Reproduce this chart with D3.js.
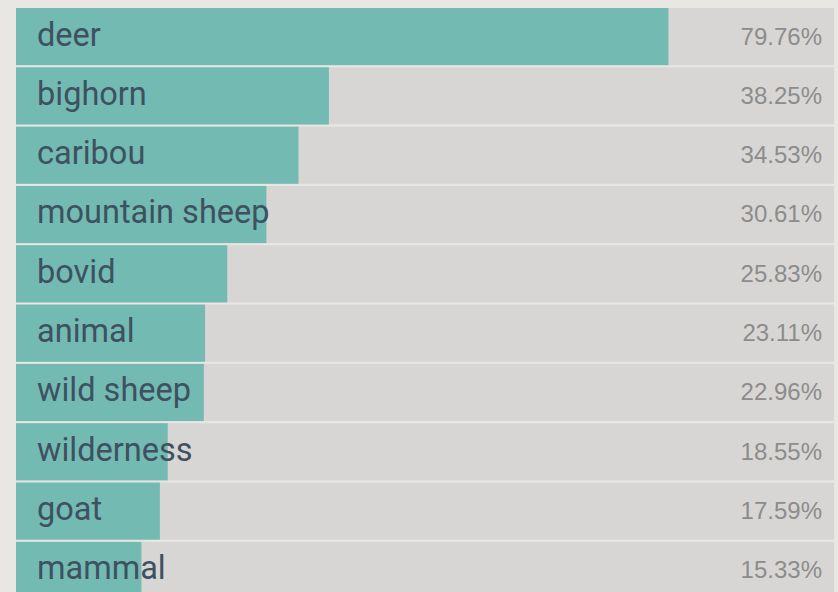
<!DOCTYPE html>
<html><head><meta charset="utf-8">
<script src="https://cdn.jsdelivr.net/npm/d3@7"></script>
<style>
html,body{margin:0;padding:0;background:#e8e7e4;overflow:hidden}
svg{display:block}
</style></head>
<body>
<svg id="chart" width="838" height="592"></svg>
<script>
const categories = ["deer","bighorn","caribou","mountain sheep","bovid","animal","wild sheep","wilderness","goat","mammal"];
const values = [79.76,38.25,34.53,30.61,25.83,23.11,22.96,18.55,17.59,15.33];
const valueLabels = ["79.76%","38.25%","34.53%","30.61%","25.83%","23.11%","22.96%","18.55%","17.59%","15.33%"];

const svg = d3.select("#chart");
const x = d3.scaleLinear().domain([0,100]).range([16,834]);
const y = d3.scaleBand().domain(categories).range([8, 8 + 59.1*10]).paddingInner(0.036).paddingOuter(0);

const rows = svg.selectAll("g.row").data(categories).join("g").attr("class","row")
  .attr("transform", d => `translate(0,${y(d)})`);

rows.append("rect").attr("x", x(0)).attr("y",0)
  .attr("width", x(100)-x(0)).attr("height", y.bandwidth()).attr("fill","#d8d6d4");
rows.append("rect").attr("x", x(0)).attr("y",0)
  .attr("width", (d,i) => x(values[i])-x(0)).attr("height", y.bandwidth()).attr("fill","#73bab2");
rows.append("text").attr("x", 37).attr("y", 37.5)
  .attr("font-family","Roboto, 'Liberation Sans', sans-serif").attr("font-size", 32.5)
  .attr("fill","#3e5160").text(d => d);
rows.append("text").attr("x", 822).attr("y", 36.5).attr("text-anchor","end")
  .attr("font-family","'Liberation Sans', Arial, sans-serif").attr("font-size", 24)
  .attr("fill","#8c8c8c").text((d,i) => valueLabels[i]);
</script>
</body></html>
